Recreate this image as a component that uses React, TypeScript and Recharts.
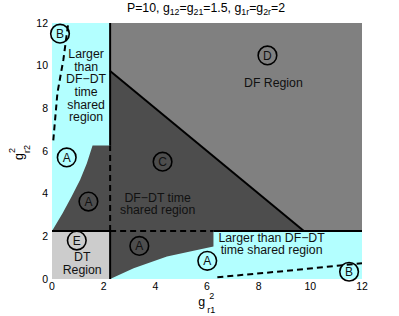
import React from "react";
import {
  ComposedChart,
  Area,
  Scatter,
  XAxis,
  YAxis,
  ReferenceArea,
  ReferenceDot,
} from "recharts";

// axis ticks
const xTicks = [0, 2, 4, 6, 8, 10, 12];
const yTicks = [0, 2, 4, 6, 8, 10, 12];

// dark region (C + both A pieces) as [low, high] per x
const darkBand = [
  { x: 0, band: [2.25, 2.25] },
  { x: 0.41, band: [2.25, 3.08] },
  { x: 0.76, band: [2.25, 3.87] },
  { x: 1.09, band: [2.25, 4.65] },
  { x: 1.35, band: [2.25, 5.43] },
  { x: 1.57, band: [2.25, 6.26] },
  { x: 2.25, band: [2.25, 6.26] },
  { x: 2.25, band: [0, 9.75] },
  { x: 3.16, band: [0.5, 8.84] },
  { x: 4.45, band: [1.05, 7.55] },
  { x: 5.75, band: [1.39, 6.25] },
  { x: 6.25, band: [1.52, 5.75] },
  { x: 6.25, band: [2.25, 5.75] },
  { x: 9.75, band: [2.25, 2.25] },
];

// boundary lines
const solidLines = [
  [{ x: 2.25, y: 6.26 }, { x: 2.25, y: 12 }],
  [{ x: 2.25, y: 0 }, { x: 2.25, y: 2.25 }],
  [{ x: 0, y: 2.25 }, { x: 2.25, y: 2.25 }],
  [{ x: 6.25, y: 2.25 }, { x: 12, y: 2.25 }],
  [{ x: 2.25, y: 9.75 }, { x: 9.75, y: 2.25 }],
];
const dashedLines = [
  [{ x: 2.25, y: 2.25 }, { x: 2.25, y: 6.26 }],
  [{ x: 2.25, y: 2.25 }, { x: 6.25, y: 2.25 }],
  [{ x: 0.05, y: 6.5 }, { x: 0.21, y: 8.72 }, { x: 0.44, y: 10.28 }, { x: 0.63, y: 12 }],
  [{ x: 6.4, y: 0.08 }, { x: 9.4, y: 0.42 }, { x: 12, y: 0.74 }],
];

// circled letters
const circleLabels = [
  { x: 0.31, y: 11.5, t: "B" },
  { x: 0.57, y: 5.7, t: "A" },
  { x: 1.41, y: 3.63, t: "A" },
  { x: 0.96, y: 1.8, t: "E" },
  { x: 3.38, y: 1.55, t: "A" },
  { x: 4.28, y: 5.5, t: "C" },
  { x: 8.34, y: 10.48, t: "D" },
  { x: 6.01, y: 0.85, t: "A" },
  { x: 11.5, y: 0.34, t: "B" },
];

// region texts
const textLabels = [
  { x: 1.32, y: 9.08, lines: ["Larger", "than", "DF\u2212DT", "time", "shared", "region"] },
  { x: 4.09, y: 3.54, lines: ["DF\u2212DT time", "shared region"] },
  { x: 8.57, y: 9.23, lines: ["DF Region"] },
  { x: 1.17, y: 0.74, lines: ["DT", "Region"] },
  { x: 8.5, y: 1.66, lines: ["Larger than DF\u2212DT", "time shared region"] },
];

const FONT = "'Liberation Sans', Arial, Helvetica, sans-serif";
const noDot = () => <g />;

export default function App() {
  return (
    <div style={{ position: "absolute", left: 0, top: 0, width: 399, height: 316, background: "#fff", fontFamily: FONT }}>
      <ComposedChart
        width={399}
        height={316}
        data={darkBand}
        margin={{ top: 23, right: 37, bottom: 7, left: 12 }}
      >
        <XAxis
          dataKey="x"
          type="number"
          domain={[0, 12]}
          ticks={xTicks}
          allowDataOverflow
          axisLine={false}
          tickLine={false}
          tickSize={2}
          tickMargin={2}
          tick={{ fontSize: 10.5, fill: "#000" }}
          height={30}
        />
        <YAxis
          dataKey="y"
          type="number"
          domain={[0, 12]}
          ticks={yTicks}
          allowDataOverflow
          axisLine={false}
          tickLine={false}
          tickSize={2}
          tickMargin={2}
          tick={{ fontSize: 10.5, fill: "#000" }}
          width={40}
        />
        <ReferenceArea x1={0} x2={12} y1={0} y2={12} fill="#b3ffff" fillOpacity={1} stroke="none" />
        <ReferenceArea x1={0} x2={2.25} y1={0} y2={2.25} fill="#cccccc" fillOpacity={1} stroke="none" />
        <ReferenceArea x1={2.25} x2={12} y1={2.25} y2={12} fill="#808080" fillOpacity={1} stroke="none" />
        <Area
          dataKey="band"
          type="linear"
          fill="#4d4d4d"
          fillOpacity={1}
          stroke="none"
          dot={false}
          activeDot={false}
          isAnimationActive={false}
        />
        {solidLines.map((d, i) => (
          <Scatter
            key={"s" + i}
            data={d}
            fill="#000"
            shape={noDot}
            line={{ stroke: "#000", strokeWidth: 2 }}
            isAnimationActive={false}
          />
        ))}
        {dashedLines.map((d, i) => (
          <Scatter
            key={"d" + i}
            data={d}
            fill="#000"
            shape={noDot}
            line={{ stroke: "#000", strokeWidth: 2, strokeDasharray: "6 4" }}
            isAnimationActive={false}
          />
        ))}
        {circleLabels.map((c, i) => (
          <ReferenceDot
            key={"c" + i}
            x={c.x}
            y={c.y}
            r={9}
            shape={(p: any) => (
              <g>
                <circle cx={p.cx} cy={p.cy} r={9.3} fill="none" stroke="#000" strokeWidth={1.6} />
                <text x={p.cx} y={p.cy} dy="0.36em" textAnchor="middle" fontSize={12} fill="#111">
                  {c.t}
                </text>
              </g>
            )}
          />
        ))}
        {textLabels.map((l, i) => (
          <ReferenceDot
            key={"t" + i}
            x={l.x}
            y={l.y}
            r={0}
            shape={(p: any) => {
              const lh = 12.6;
              const y0 = p.cy - ((l.lines.length - 1) * lh) / 2;
              return (
                <g>
                  {l.lines.map((s, j) => (
                    <text key={j} x={p.cx} y={y0 + j * lh} dy="0.36em" textAnchor="middle" fontSize={12.3} fill="#111">
                      {s}
                    </text>
                  ))}
                </g>
              );
            }}
          />
        ))}
      </ComposedChart>
      <svg
        width={399}
        height={316}
        style={{ position: "absolute", left: 0, top: 0, pointerEvents: "none", fontFamily: FONT }}
      >
        <text x={206} y={12} textAnchor="middle" fontSize={12.3} fill="#000">
          <tspan>P=10, g</tspan>
          <tspan fontSize={8.8} dy={3}>12</tspan>
          <tspan dy={-3}>=g</tspan>
          <tspan fontSize={8.8} dy={3}>21</tspan>
          <tspan dy={-3}>=1.5, g</tspan>
          <tspan fontSize={8.8} dy={3}>1r</tspan>
          <tspan dy={-3}>=g</tspan>
          <tspan fontSize={8.8} dy={3}>2r</tspan>
          <tspan dy={-3}>=2</tspan>
        </text>
        <text x={198.3} y={306} fontSize={12.4} fill="#000">g</text>
        <text x={207.3} y={313} fontSize={9} fill="#000">r1</text>
        <text x={209.3} y={299} fontSize={9} fill="#000">2</text>
        <g transform="translate(22.5,160) rotate(-90)">
          <text x={0} y={0} fontSize={12.4} fill="#000">g</text>
          <text x={7} y={7.5} fontSize={9} fill="#000">r2</text>
          <text x={7} y={-7.5} fontSize={9} fill="#000">2</text>
        </g>
      </svg>
    </div>
  );
}
